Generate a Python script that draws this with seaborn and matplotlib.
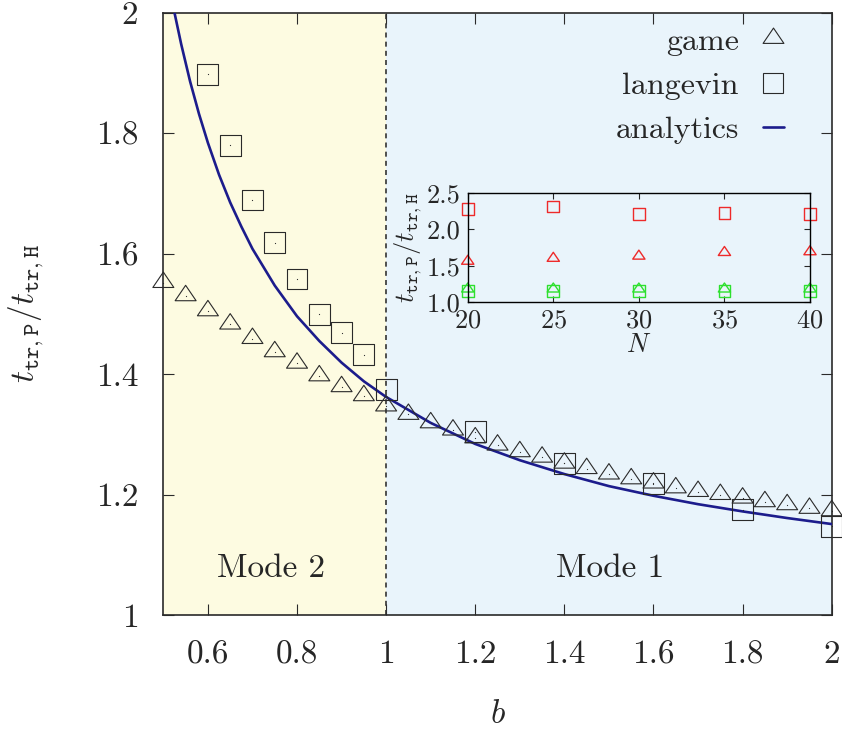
import matplotlib
matplotlib.use('Agg')
import matplotlib.pyplot as plt
import seaborn as sns
from matplotlib.path import Path
from matplotlib.lines import Line2D

# main panel data
b_game = [0.5, 0.55, 0.6, 0.65, 0.7, 0.75, 0.8, 0.85, 0.9, 0.95, 1.0,
          1.05, 1.1, 1.15, 1.2, 1.25, 1.3, 1.35, 1.4, 1.45, 1.5,
          1.55, 1.6, 1.65, 1.7, 1.75, 1.8, 1.85, 1.9, 1.95, 2.0]
t_game = [1.552, 1.530, 1.505, 1.483, 1.459, 1.437, 1.418, 1.397, 1.379, 1.364, 1.347,
          1.333, 1.319, 1.307, 1.294, 1.282, 1.271, 1.262, 1.252, 1.243, 1.234,
          1.226, 1.219, 1.211, 1.205, 1.200, 1.194, 1.188, 1.183, 1.177, 1.173]

b_lang = [0.6, 0.65, 0.7, 0.75, 0.8, 0.85, 0.9, 0.95, 1.0, 1.2, 1.4, 1.6, 1.8, 2.0]
t_lang = [1.898, 1.780, 1.689, 1.618, 1.558, 1.499, 1.469, 1.432, 1.374,
          1.304, 1.252, 1.218, 1.175, 1.147]

b_anal = [0.525, 0.54, 0.56, 0.58, 0.6, 0.625, 0.65, 0.675, 0.7, 0.75, 0.8, 0.85,
          0.9, 0.95, 1.0, 1.1, 1.2, 1.3, 1.4, 1.5, 1.6, 1.7, 1.8, 1.9, 2.0]
t_anal = [2.000, 1.948, 1.886, 1.832, 1.784, 1.731, 1.685, 1.645, 1.608, 1.547, 1.496, 1.455,
          1.419, 1.388, 1.362, 1.319, 1.284, 1.257, 1.234, 1.214, 1.198, 1.184, 1.172, 1.161, 1.151]

x_ticks = [0.6, 0.8, 1.0, 1.2, 1.4, 1.6, 1.8, 2.0]
x_labels = ['0.6', '0.8', '1', '1.2', '1.4', '1.6', '1.8', '2']
y_ticks = [1.0, 1.2, 1.4, 1.6, 1.8, 2.0]
y_labels = ['1', '1.2', '1.4', '1.6', '1.8', '2']

# inset data
N_vals = [20, 25, 30, 35, 40]
red_sq = [2.28, 2.31, 2.21, 2.22, 2.21]
red_tri = [1.56, 1.60, 1.63, 1.68, 1.69]
green_sq = [1.15, 1.15, 1.15, 1.15, 1.15]
green_tri = [1.18, 1.18, 1.18, 1.18, 1.18]

sns.set_style('ticks')
plt.rcParams['font.family'] = 'serif'
plt.rcParams['font.serif'] = ['cmr10', 'DejaVu Serif']
plt.rcParams['mathtext.fontset'] = 'cm'
plt.rcParams['axes.formatter.use_mathtext'] = True
plt.rcParams['axes.unicode_minus'] = False

tri = Path([(-1, -0.47), (1, -0.47), (0, 1.0), (-1, -0.47)],
           [Path.MOVETO, Path.LINETO, Path.LINETO, Path.CLOSEPOLY])
ink = '#2a2a2a'
navy = '#1c1c8c'

fig = plt.figure(figsize=(8.42, 7.36), dpi=100)
ax = fig.add_axes([0.194, 0.1644, 0.7938, 0.8183])

ax.axvspan(0.5, 1.0, color='#fdfbe1', zorder=0, lw=0)
ax.axvspan(1.0, 2.0, color='#e9f4fb', zorder=0, lw=0)
ax.axvline(1.0, color='#333333', lw=1.2, dashes=(3, 2.5), zorder=1)

sns.lineplot(x=b_anal, y=t_anal, sort=False, estimator=None, color=navy,
             linewidth=1.9, ax=ax, zorder=3)
sns.scatterplot(x=b_game, y=t_game, marker=tri, s=228, facecolor='none',
                edgecolor=ink, linewidth=0.8, ax=ax, zorder=4, clip_on=False)
sns.scatterplot(x=b_lang, y=t_lang, marker='s', s=225, facecolor='none',
                edgecolor=ink, linewidth=0.8, ax=ax, zorder=4, clip_on=False)
sns.scatterplot(x=b_game + b_lang, y=t_game + t_lang, marker='.', s=3,
                color=ink, linewidth=0, ax=ax, zorder=5)

ax.set_xlim(0.5, 2.0)
ax.set_ylim(1.0, 2.0)
ax.set_xticks(x_ticks)
ax.set_xticklabels(x_labels)
ax.set_yticks(y_ticks)
ax.set_yticklabels(y_labels)
ax.tick_params(direction='in', length=8, width=0.8, top=True, right=True,
               labelsize=24, pad=18, color=ink)
for sp in ax.spines.values():
    sp.set_linewidth(1.2)
    sp.set_color(ink)
ax.set_xlabel('$b$', fontsize=24, labelpad=22)
ax.set_ylabel(r'$t_{\mathtt{tr,P}}/t_{\mathtt{tr,H}}$', fontsize=24, labelpad=36)

ax.text(0.742, 1.078, 'Mode 2', fontsize=24, ha='center', va='center')
ax.text(1.502, 1.078, 'Mode 1', fontsize=24, ha='center', va='center')

handles = [
    Line2D([], [], ls='none', marker=tri, markersize=15, mfc='none', mec=ink, mew=0.8),
    Line2D([], [], ls='none', marker='s', markersize=14, mfc='none', mec=ink, mew=0.8),
    Line2D([], [], color=navy, lw=1.9),
]
ax.legend(handles, ['game', 'langevin', 'analytics'], loc='upper right',
          bbox_to_anchor=(0.947, 0.997), markerfirst=False, frameon=False,
          fontsize=23, handlelength=0.65, handletextpad=0.75,
          labelspacing=0.5, borderaxespad=0)

# inset
ins = fig.add_axes([0.5555, 0.5893, 0.4065, 0.1489])
ins.set_facecolor('none')
red = '#ee2a2a'
green = '#2ee02e'
sns.scatterplot(x=N_vals, y=red_sq, marker='s', s=72, facecolor='none',
                edgecolor=red, linewidth=1.0, ax=ins, clip_on=False)
sns.scatterplot(x=N_vals, y=red_tri, marker=tri, s=78, facecolor='none',
                edgecolor=red, linewidth=1.0, ax=ins, clip_on=False)
sns.scatterplot(x=N_vals, y=green_sq, marker='s', s=72, facecolor='none',
                edgecolor=green, linewidth=1.0, ax=ins, clip_on=False)
sns.scatterplot(x=N_vals, y=green_tri, marker=tri, s=78, facecolor='none',
                edgecolor=green, linewidth=1.0, ax=ins, clip_on=False)
ins.set_xlim(20, 40)
ins.set_ylim(1.0, 2.5)
ins.set_xticks(N_vals)
ins.set_yticks([1.0, 1.5, 2.0, 2.5])
ins.set_yticklabels(['1.0', '1.5', '2.0', '2.5'])
ins.tick_params(direction='in', length=4, width=0.8, top=True, right=True,
                labelsize=19, pad=5)
for sp in ins.spines.values():
    sp.set_linewidth(1.0)
    sp.set_color('black')
ins.set_xlabel('$N$', fontsize=19, labelpad=0)
ins.set_ylabel(r'$t_{\mathtt{tr,P}}/t_{\mathtt{tr,H}}$', fontsize=19, labelpad=2)

fig.savefig('out.png', dpi=100)
